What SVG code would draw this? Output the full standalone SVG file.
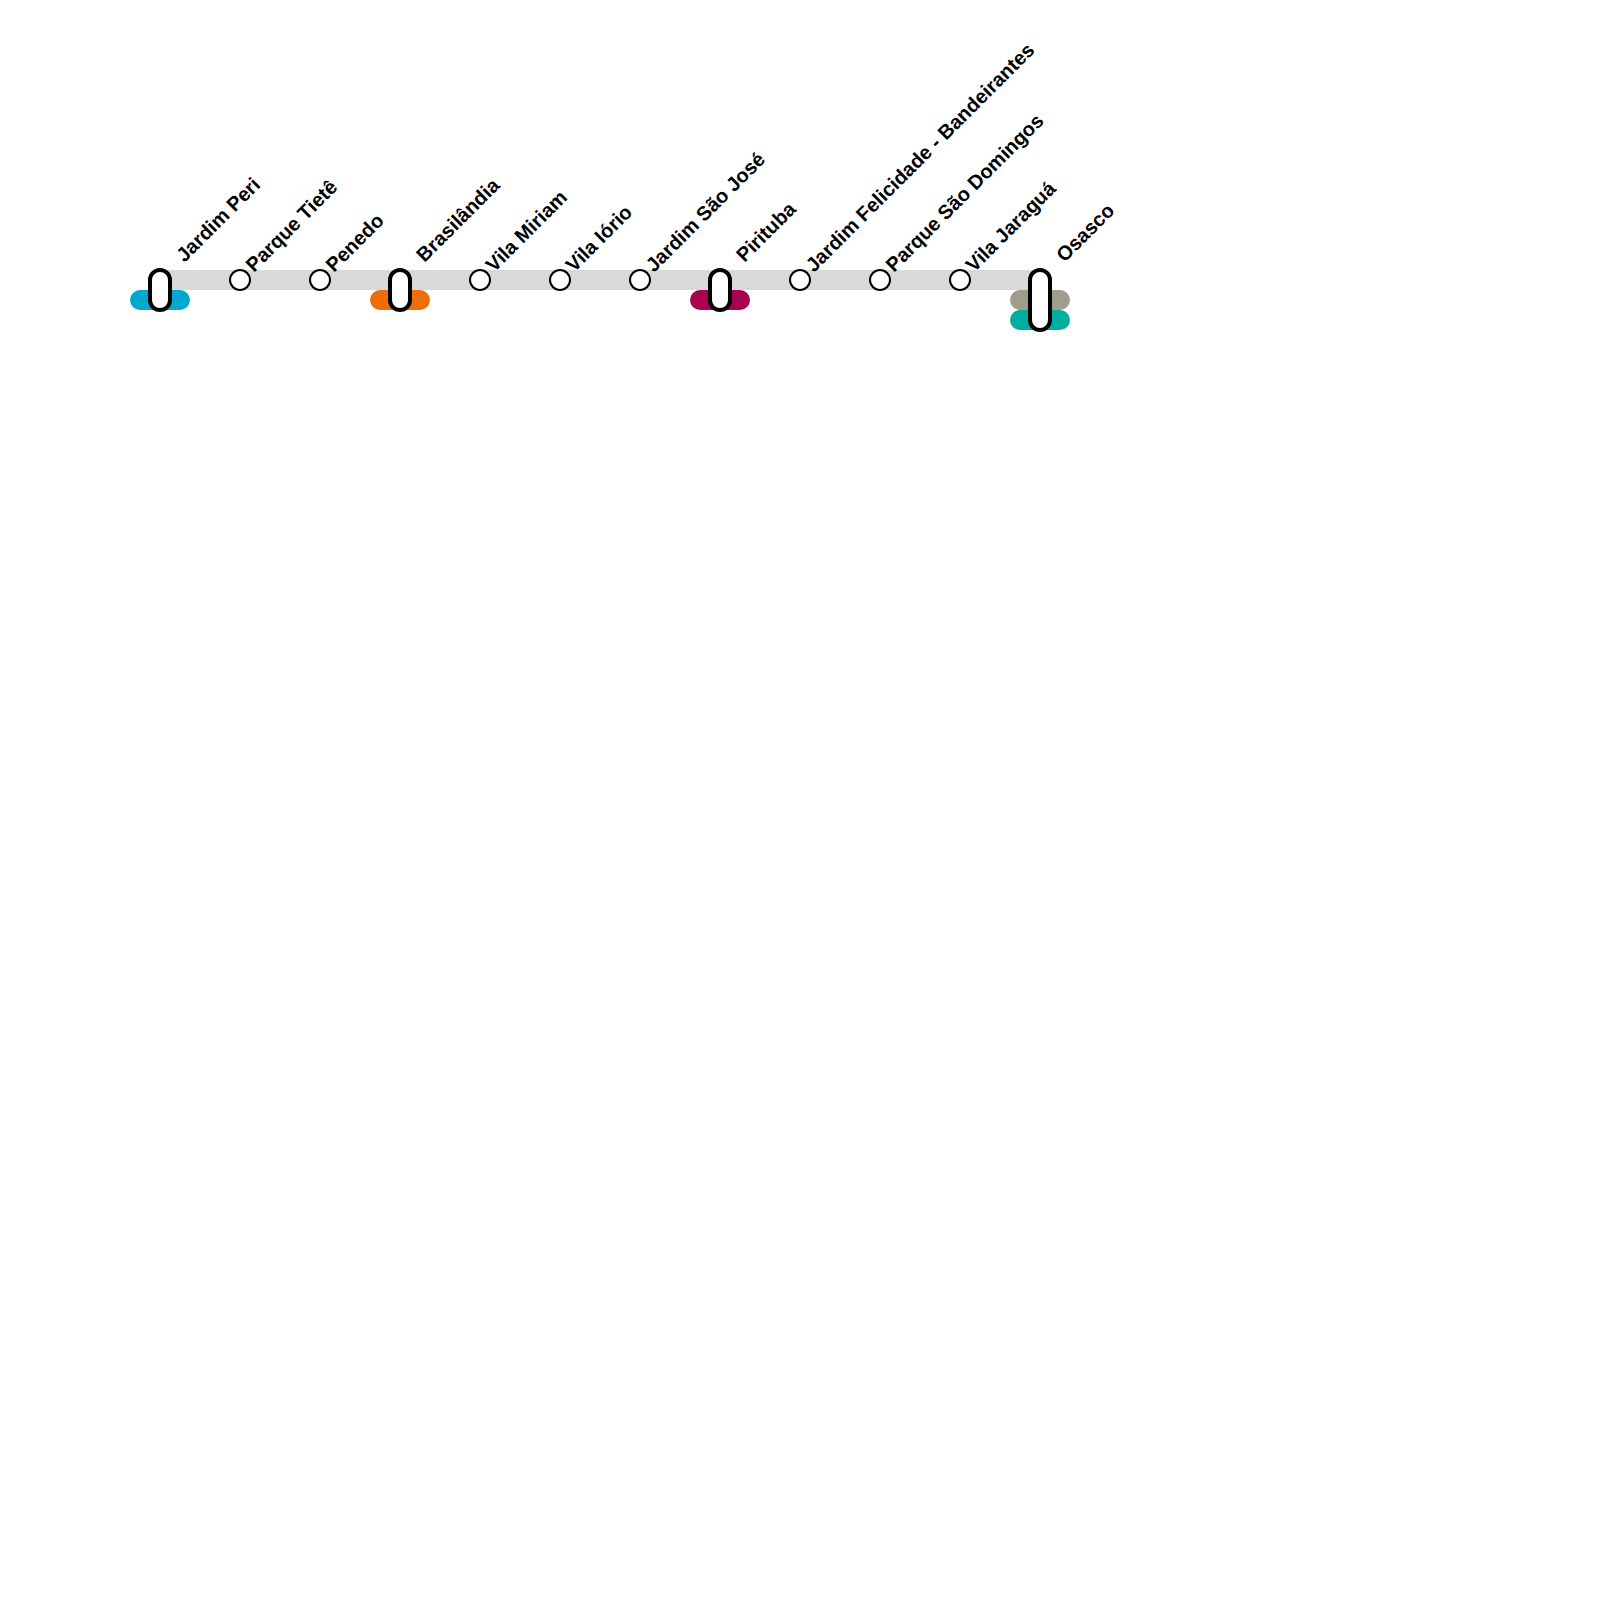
<svg xmlns="http://www.w3.org/2000/svg" width="1600" height="1600" viewBox="0 0 1600 1600">
<style>
.l{font:bold 20px "Liberation Sans",Arial,sans-serif;fill:#000;text-rendering:geometricPrecision}
.s{fill:#fff;stroke:#000;stroke-width:2}
.i{fill:#fff;stroke:#000;stroke-width:4}
</style>
<g id="connectors"><rect x="160" y="270" width="880" height="20" fill="#d9d9d9"/></g>
<g id="n1"><rect x="130" y="290" width="60" height="20" rx="10" fill="#00a7cf"/><rect class="i" x="150" y="270" width="20" height="40" rx="10"/><text class="l" transform="translate(184.5 263) rotate(-45)">Jardim Peri</text></g>
<g id="n2"><circle class="s" cx="240" cy="280" r="10"/><text class="l" transform="translate(254 273) rotate(-45)">Parque Tietê</text></g>
<g id="n3"><circle class="s" cx="320" cy="280" r="10"/><text class="l" transform="translate(334 273) rotate(-45)">Penedo</text></g>
<g id="n4"><rect x="370" y="290" width="60" height="20" rx="10" fill="#ee6d05"/><rect class="i" x="390" y="270" width="20" height="40" rx="10"/><text class="l" transform="translate(424.5 263) rotate(-45)">Brasilândia</text></g>
<g id="n5"><circle class="s" cx="480" cy="280" r="10"/><text class="l" transform="translate(494 273) rotate(-45)">Vila Miriam</text></g>
<g id="n6"><circle class="s" cx="560" cy="280" r="10"/><text class="l" transform="translate(574 273) rotate(-45)">Vila Iório</text></g>
<g id="n7"><circle class="s" cx="640" cy="280" r="10"/><text class="l" transform="translate(654 273) rotate(-45)">Jardim São José</text></g>
<g id="n8"><rect x="690" y="290" width="60" height="20" rx="10" fill="#a9004f"/><rect class="i" x="710" y="270" width="20" height="40" rx="10"/><text class="l" transform="translate(744.5 263) rotate(-45)">Pirituba</text></g>
<g id="n9"><circle class="s" cx="800" cy="280" r="10"/><text class="l" transform="translate(814 273) rotate(-45)">Jardim Felicidade - Bandeirantes</text></g>
<g id="n10"><circle class="s" cx="880" cy="280" r="10"/><text class="l" transform="translate(894 273) rotate(-45)">Parque São Domingos</text></g>
<g id="n11"><circle class="s" cx="960" cy="280" r="10"/><text class="l" transform="translate(974 273) rotate(-45)">Vila Jaraguá</text></g>
<g id="n12"><rect x="1010" y="290" width="60" height="20" rx="10" fill="#a29c8b"/><rect x="1010" y="310" width="60" height="20" rx="10" fill="#00ae9f"/><rect class="i" x="1030" y="270" width="20" height="60" rx="10"/><text class="l" transform="translate(1064.5 263) rotate(-45)">Osasco</text></g>
</svg>
